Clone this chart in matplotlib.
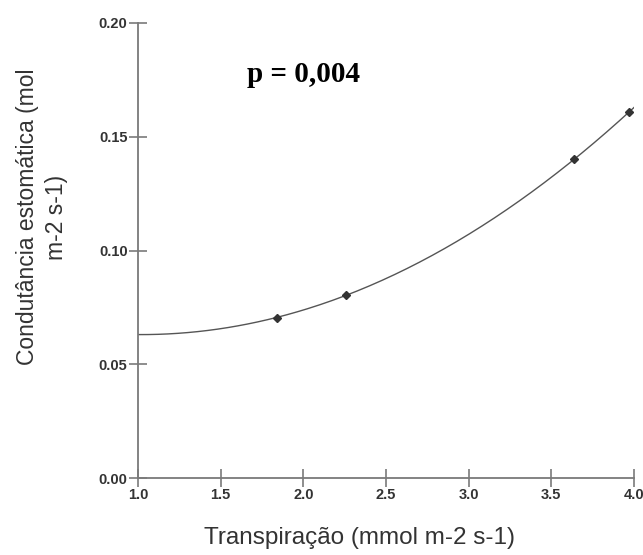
import numpy as np
import matplotlib
matplotlib.use('Agg')
import matplotlib.pyplot as plt

# transpiration vs stomatal conductance
transp = np.array([1.84, 2.26, 3.64, 3.97])
cond = np.array([0.0705, 0.0805, 0.140, 0.161])
x_ticks = [1.0, 1.5, 2.0, 2.5, 3.0, 3.5, 4.0]
y_ticks = [0.00, 0.05, 0.10, 0.15, 0.20]

# quadratic fit through the points
coef = np.polyfit(transp, cond, 2)
xs = np.linspace(1.0, 4.0, 200)
ys = np.polyval(coef, xs)

axis_gray = '#7a7a7a'
text_gray = '#333333'

fig = plt.figure(figsize=(6.43, 5.55), dpi=100)
ax = fig.add_axes([138/643, 1-478/555, (634-138)/643, (478-23)/555])

ax.plot(xs, ys, color='#555555', linewidth=1.0)
ax.plot(transp, cond, linestyle='none', marker='D', markersize=4.5, color='#333333')

ax.set_xlim(1.0, 4.0)
ax.set_ylim(0.0, 0.20)
ax.set_xticks(x_ticks)
ax.set_yticks(y_ticks)
ax.set_xticklabels(['%.1f' % v for v in x_ticks])
ax.set_yticklabels(['%.2f' % v for v in y_ticks])

for s in ('top', 'right'):
    ax.spines[s].set_visible(False)
for s in ('left', 'bottom'):
    ax.spines[s].set_color(axis_gray)
    ax.spines[s].set_linewidth(1.3)

ax.tick_params(direction='inout', length=13, width=1.2, color=axis_gray,
               labelsize=10.5, labelcolor=text_gray, pad=1)
for lab in ax.get_xticklabels() + ax.get_yticklabels():
    lab.set_fontweight('bold')
    lab.set_family('Liberation Sans')

fig.text(247/643, 1-75/555, 'p = 0,004', fontsize=21, fontweight='bold',
         family='Liberation Serif', color='black', va='center', ha='left')

fig.text(360/643, 1-538/555, 'Transpiração (mmol m-2 s-1)', fontsize=17.5,
         family='Liberation Sans', color=text_gray, ha='center', va='center')
fig.text(42/643, 1-217/555, 'Condutância estomática (mol\nm-2 s-1)', fontsize=16.5,
         family='Liberation Sans', color=text_gray, ha='center', va='center',
         rotation=90, multialignment='center', linespacing=1.3)

fig.savefig('out.png', dpi=100)
